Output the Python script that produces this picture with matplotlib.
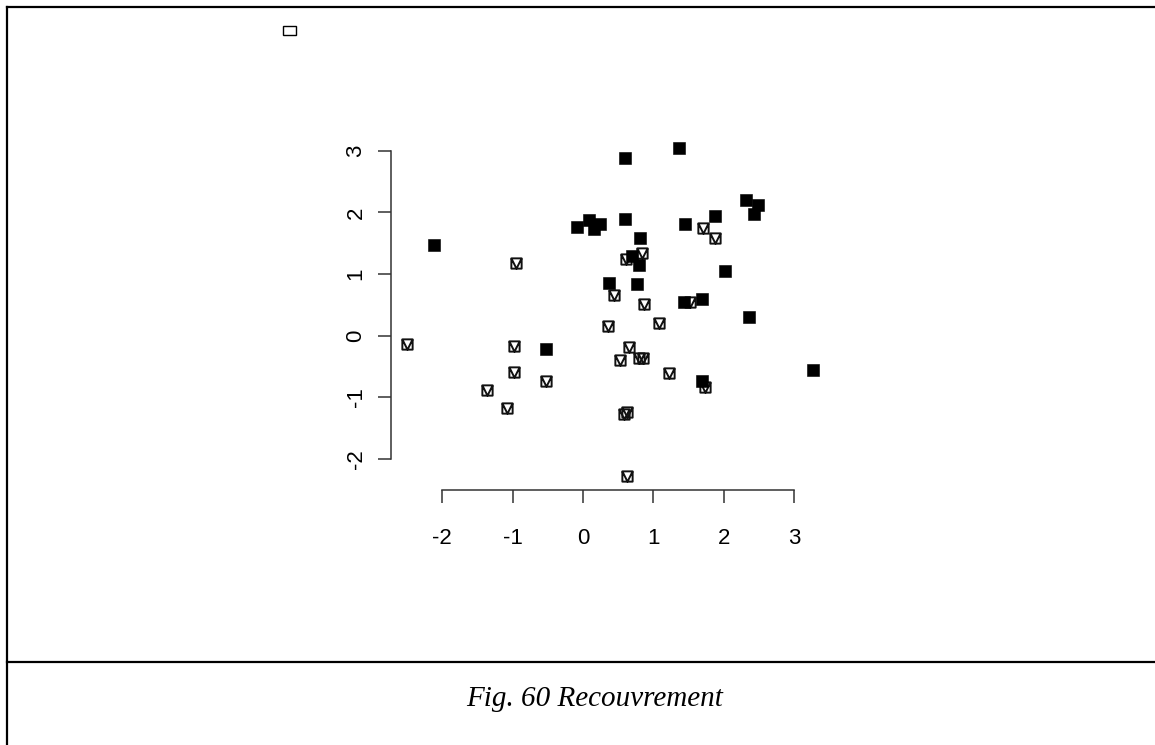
import numpy as np
import matplotlib
matplotlib.use("Agg")
import matplotlib.pyplot as plt
from matplotlib.path import Path
from matplotlib.patches import Rectangle
from matplotlib.lines import Line2D

plt.rcParams['font.family'] = ['Liberation Sans', 'DejaVu Sans']
plt.rcParams['axes.unicode_minus'] = False

# group 1 : filled squares (pch 15)
x_filled = [-2.12, -0.09, 0.08, 0.15, 0.24, 0.59, 0.59, 0.81, 0.69, 0.79,
            0.37, 0.77, 1.37, 2.32, 2.49, 2.43, 1.87, 1.45, 2.02, 1.44,
            1.69, 2.36, 3.27, 1.69, -0.52]
y_filled = [1.47, 1.76, 1.88, 1.73, 1.81, 2.88, 1.90, 1.59, 1.29, 1.15,
            0.85, 0.84, 3.05, 2.21, 2.12, 1.97, 1.95, 1.82, 1.05, 0.54,
            0.59, 0.31, -0.55, -0.73, -0.21]

# group 2 : square with triangle (pch 14)
x_open = [-0.95, 0.84, 0.61, 0.44, 0.86, 0.35, 1.08, 1.71, 1.88, 1.52,
          1.73, -2.50, -0.98, -0.98, -0.53, -1.36, -1.08, 0.65, 0.53, 0.79,
          0.85, 1.22, 0.62, 0.58, 0.63]
y_open = [1.18, 1.34, 1.25, 0.66, 0.52, 0.15, 0.20, 1.75, 1.58, 0.55,
          -0.83, -0.13, -0.17, -0.59, -0.73, -0.89, -1.17, -0.19, -0.40, -0.36,
          -0.36, -0.61, -1.24, -1.28, -2.28]

ticks = [-2, -1, 0, 1, 2, 3]
caption = "Fig. 60 Recouvrement"

W, H = 1155, 745
fig = plt.figure(figsize=(W / 100, H / 100), dpi=100)

# R-like pch 14 marker: square with a V inside
verts = [(-1, -1), (1, -1), (1, 1), (-1, 1), (-1, -1),
         (-1, 1), (0, -1), (1, 1)]
codes = [Path.MOVETO, Path.LINETO, Path.LINETO, Path.LINETO, Path.CLOSEPOLY,
         Path.MOVETO, Path.LINETO, Path.LINETO]
pch14 = Path(verts, codes)

ax = fig.add_axes([0.3384, 0.3428, 0.3797, 0.4762])
ax.plot(x_open, y_open, linestyle='none', marker=pch14, markersize=7.4,
        markerfacecolor='none', markeredgecolor='#111111', markeredgewidth=1.4)
ax.plot(x_filled, y_filled, linestyle='none', marker='s', markersize=8.0,
        markerfacecolor='black', markeredgecolor='black', markeredgewidth=0.4)

ax.set_xlim(-2.73, 3.50)
ax.set_ylim(-2.50, 3.26)
for side in ['top', 'right']:
    ax.spines[side].set_visible(False)
ax.spines['left'].set_bounds(-2, 3)
ax.spines['bottom'].set_bounds(-2, 3)
for side in ['left', 'bottom']:
    ax.spines[side].set_linewidth(1.1)
    ax.spines[side].set_color('#333333')
ax.set_xticks(ticks)
ax.set_yticks(ticks)
ax.set_xticklabels([str(t) for t in ticks])
ax.set_yticklabels([str(t) for t in ticks], rotation=90, va='center')
ax.tick_params(axis='both', direction='out', length=9.5, width=1.1,
               color='#333333', labelsize=16)
ax.tick_params(axis='x', pad=18)
ax.tick_params(axis='y', pad=8)

# page frame and caption
fig.add_artist(Line2D([7 / W, 7 / W], [0, 1 - 7 / H], color='black', lw=1.6))
fig.add_artist(Line2D([7 / W, 1], [1 - 7 / H, 1 - 7 / H], color='black', lw=1.6))
fig.add_artist(Line2D([7 / W, 1], [1 - 662 / H, 1 - 662 / H], color='black', lw=1.6))
fig.add_artist(Rectangle((283 / W, 1 - 35 / H), 13 / W, 9 / H,
                         transform=fig.transFigure, fill=False,
                         edgecolor='black', lw=1.0))
fig.text(595 / W, 1 - 699 / H, caption, ha='center', va='center',
         fontsize=21, style='italic', family=['Liberation Serif', 'DejaVu Serif'])

fig.savefig("out.png", dpi=100)
